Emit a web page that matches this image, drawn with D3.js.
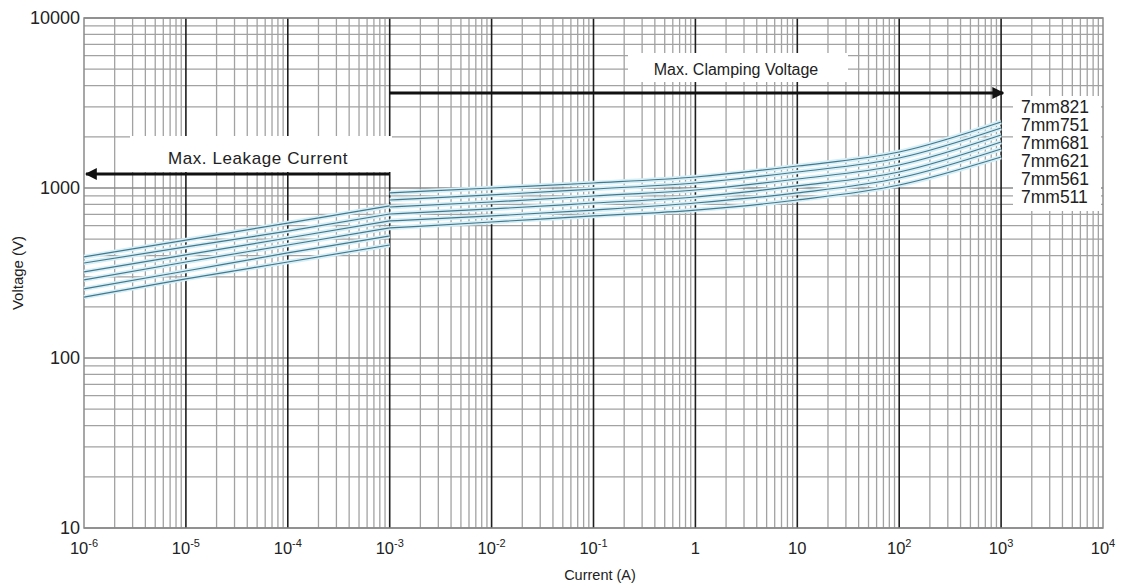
<!DOCTYPE html>
<html>
<head>
<meta charset="utf-8">
<script src="https://cdn.jsdelivr.net/npm/d3@7"></script>
<style>
body { margin: 0; background: #fff; }
svg text { font-family: "Liberation Sans", Arial, sans-serif; fill: #222; }
</style>
</head>
<body>
<div id="chart"></div>
<script>
// series names, top to bottom
var seriesNames = ["7mm821", "7mm751", "7mm681", "7mm621", "7mm561", "7mm511"];

// leakage region (A)
var leakCurrent = [1e-6, 1e-5, 1e-4, 1e-3];
var leak821 = [393, 494, 622, 784];
var leak751 = [362, 450, 558, 703];
var leak681 = [321, 404, 508, 640];
var leak621 = [288, 367, 462, 582];
var leak561 = [255, 325, 415, 522];
var leak511 = [228, 292, 367, 462];

// clamping region (A)
var clampCurrent = [1e-3, 1e-2, 1e-1, 1, 10, 100, 1000];
var clamp821 = [935, 1000, 1070, 1161, 1347, 1628, 2445];
var clamp751 = [850, 910, 986, 1070, 1242, 1501, 2254];
var clamp681 = [773, 827, 897, 973, 1130, 1366, 2050];
var clamp621 = [703, 753, 816, 885, 1028, 1242, 1865];
var clamp561 = [640, 685, 742, 816, 935, 1145, 1696];
var clamp511 = [582, 631, 685, 742, 850, 1041, 1521];

var xTickExp = [-6, -5, -4, -3, -2, -1, 0, 1, 2, 3, 4];
var yTicks = [10, 100, 1000, 10000];

var leakSeries = [leak821, leak751, leak681, leak621, leak561, leak511];
var clampSeries = [clamp821, clamp751, clamp681, clamp621, clamp561, clamp511];

var width = 1138, height = 587;
var pLeft = 84, pRight = 1103, pTop = 18, pBottom = 528;

var svg = d3.select("#chart").append("svg")
	.attr("width", width)
	.attr("height", height);

var x = d3.scaleLog().domain([1e-6, 1e4]).range([pLeft, pRight]);
var y = d3.scaleLog().domain([10, 10000]).range([pBottom, pTop]);

// minor grid
var xMinor = [];
for (var e = -6; e < 4; e++) {
	for (var m = 2; m <= 9; m++) xMinor.push(m * Math.pow(10, e));
}
var yMinor = [];
for (var e2 = 1; e2 < 4; e2++) {
	for (var m2 = 2; m2 <= 9; m2++) yMinor.push(m2 * Math.pow(10, e2));
}

var grid = svg.append("g");
grid.selectAll(".yminor").data(yMinor).enter().append("line")
	.attr("x1", pLeft).attr("x2", pRight)
	.attr("y1", function (d) { return y(d); })
	.attr("y2", function (d) { return y(d); })
	.attr("stroke", "#a2a2a2")
	.attr("stroke-width", 1.3);
grid.selectAll(".xminor").data(xMinor).enter().append("line")
	.attr("y1", pTop).attr("y2", pBottom)
	.attr("x1", function (d) { return x(d); })
	.attr("x2", function (d) { return x(d); })
	.attr("stroke", "#a2a2a2")
	.attr("stroke-width", 1.3);
grid.selectAll(".ymajor").data(yTicks).enter().append("line")
	.attr("x1", pLeft).attr("x2", pRight)
	.attr("y1", function (d) { return y(d); })
	.attr("y2", function (d) { return y(d); })
	.attr("stroke", "#8a8a8a")
	.attr("stroke-width", 1.5);
grid.selectAll(".xmajor").data(xTickExp.slice(1, -1)).enter().append("line")
	.attr("y1", pTop).attr("y2", pBottom)
	.attr("x1", function (d) { return x(Math.pow(10, d)); })
	.attr("x2", function (d) { return x(Math.pow(10, d)); })
	.attr("stroke", "#1e1e1e")
	.attr("stroke-width", 1.6);
svg.append("rect")
	.attr("x", pLeft).attr("y", pTop)
	.attr("width", pRight - pLeft).attr("height", pBottom - pTop)
	.attr("fill", "none")
	.attr("stroke", "#8a8a8a")
	.attr("stroke-width", 1.5);

// white label boxes
svg.append("rect").attr("x", 130).attr("y", 136).attr("width", 262).attr("height", 36).attr("fill", "#fff");
svg.append("rect").attr("x", 628).attr("y", 53).attr("width", 220).attr("height", 29).attr("fill", "#fff");
svg.append("rect").attr("x", 1013).attr("y", 96).attr("width", 88).attr("height", 115).attr("fill", "#fff");

// curves
var line = d3.line()
	.curve(d3.curveMonotoneX)
	.x(function (d) { return x(d[0]); })
	.y(function (d) { return y(d[1]); });

var curves = svg.append("g");
function drawSeg(xs, series) {
	series.forEach(function (vals) {
		var pts = xs.map(function (c, i) { return [c, vals[i]]; });
		curves.append("path").attr("d", line(pts))
			.attr("fill", "none").attr("stroke", "#d6eef5").attr("stroke-width", 4.5);
	});
	series.forEach(function (vals) {
		var pts = xs.map(function (c, i) { return [c, vals[i]]; });
		curves.append("path").attr("d", line(pts))
			.attr("fill", "none").attr("stroke", "#42798f").attr("stroke-width", 1.2);
	});
}
drawSeg(leakCurrent, leakSeries);
drawSeg(clampCurrent, clampSeries);

// arrows
var defs = svg.append("defs");
defs.append("marker").attr("id", "arr")
	.attr("viewBox", "0 0 10 10").attr("refX", 9).attr("refY", 5)
	.attr("markerWidth", 4).attr("markerHeight", 4)
	.attr("orient", "auto-start-reverse")
	.append("path").attr("d", "M0,0L10,5L0,10Z").attr("fill", "#111");

svg.append("line")
	.attr("x1", x(1e-3)).attr("x2", x(1e-6) + 2)
	.attr("y1", 174).attr("y2", 174)
	.attr("stroke", "#111").attr("stroke-width", 3)
	.attr("marker-end", "url(#arr)");
svg.append("line")
	.attr("x1", x(1e-3)).attr("x2", x(1e3) + 2)
	.attr("y1", 93).attr("y2", 93)
	.attr("stroke", "#111").attr("stroke-width", 3)
	.attr("marker-end", "url(#arr)");

svg.append("text").text("Max. Leakage Current")
	.attr("x", 258).attr("y", 164)
	.attr("text-anchor", "middle")
	.style("font-size", "17px")
	.style("letter-spacing", "0.6px");
svg.append("text").text("Max. Clamping Voltage")
	.attr("x", 736).attr("y", 75)
	.attr("text-anchor", "middle")
	.style("font-size", "16px");

// legend labels
svg.append("g").selectAll("text").data(seriesNames).enter().append("text")
	.text(function (d) { return d; })
	.attr("x", 1021)
	.attr("y", function (d, i) { return 113 + i * 18; })
	.style("font-size", "17.5px");

// axis labels
svg.append("g").selectAll("text").data(yTicks).enter().append("text")
	.text(function (d) { return d; })
	.attr("x", 80)
	.attr("y", function (d) { return y(d) + 6; })
	.attr("text-anchor", "end")
	.style("font-size", "18px");

var xl = svg.append("g").selectAll("text").data(xTickExp).enter().append("text")
	.attr("x", function (d) { return x(Math.pow(10, d)); })
	.attr("y", 554)
	.attr("text-anchor", "middle")
	.style("font-size", "16.5px");
xl.each(function (d) {
	var t = d3.select(this);
	if (d === 0) { t.text("1"); return; }
	if (d === 1) { t.text("10"); return; }
	t.append("tspan").text("10");
	t.append("tspan").text(d).attr("dy", -7).style("font-size", "11px");
});

svg.append("text").text("Current (A)")
	.attr("x", 600).attr("y", 580)
	.attr("text-anchor", "middle")
	.style("font-size", "14.5px");
svg.append("text").text("Voltage (V)")
	.attr("transform", "translate(23," + 273 + ") rotate(-90)")
	.attr("text-anchor", "middle")
	.style("font-size", "15px");
</script>
</body>
</html>
